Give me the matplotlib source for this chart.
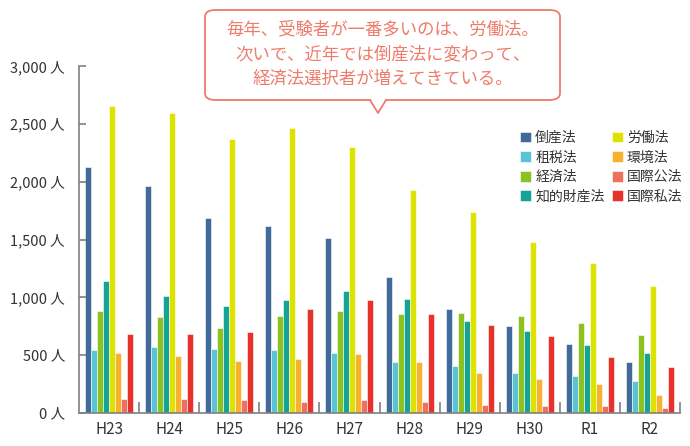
import numpy as np
import matplotlib.pyplot as plt
from matplotlib.patches import FancyBboxPatch, Polygon
from matplotlib.lines import Line2D

plt.rcParams['font.family'] = ['Noto Sans CJK JP', 'DejaVu Sans']

years = ['H23', 'H24', 'H25', 'H26', 'H27', 'H28', 'H29', 'H30', 'R1', 'R2']
subjects = ['倒産法', '租税法', '経済法', '知的財産法', '労働法', '環境法', '国際公法', '国際私法']
colors = ['#3f6a99', '#5bc3d6', '#8cc220', '#14a394', '#dce300', '#f8b12c', '#ee7060', '#e8312a']

tousan = [2130, 1960, 1690, 1620, 1510, 1180, 900, 750, 595, 440]
sozei = [545, 570, 552, 545, 520, 440, 405, 345, 320, 276]
keizai = [880, 830, 735, 840, 880, 855, 862, 840, 780, 672]
chiteki = [1140, 1010, 922, 975, 1052, 983, 795, 707, 590, 517]
roudou = [2655, 2595, 2365, 2460, 2302, 1925, 1735, 1480, 1295, 1095]
kankyou = [517, 492, 448, 465, 512, 440, 345, 295, 250, 155]
kokusai_kou = [121, 121, 112, 97, 112, 97, 70, 60, 60, 43]
kokusai_shi = [684, 684, 698, 896, 974, 853, 760, 665, 485, 397]

series = [tousan, sozei, keizai, chiteki, roudou, kankyou, kokusai_kou, kokusai_shi]

W, H = 690, 446
fig = plt.figure(figsize=(W / 100, H / 100), dpi=100)


def px(x, y):
    return (x / W, 1 - y / H)


ax = fig.add_axes([79 / W, 33 / H, 601 / W, 347 / H])

x = np.arange(len(years))
bw = 0.1
for i, (vals, c) in enumerate(zip(series, colors)):
    ax.bar(x - 0.35 + i * bw, vals, width=bw, color=c, edgecolor='white',
           linewidth=0.4, label=subjects[i])

ax.set_xlim(-0.5, len(years) - 0.5)
ax.set_ylim(0, 3000)

for s in ['top', 'right']:
    ax.spines[s].set_visible(False)
for s in ['left', 'bottom']:
    ax.spines[s].set_color('#808080')
    ax.spines[s].set_linewidth(1.2)

yt = np.arange(0, 3001, 500)
ax.set_yticks(yt)
ax.set_yticklabels([f'{v:,} 人' for v in yt], fontsize=10.5, color='#333333')
ax.tick_params(axis='y', direction='in', length=5, width=1.2, color='#808080', pad=10)

ax.set_xticks(x)
ax.set_xticklabels(years, fontsize=11, color='#333333')
ax.tick_params(axis='x', length=0, pad=6)
ax.set_xticks(np.arange(0.5, len(years)), minor=True)
ax.tick_params(axis='x', which='minor', direction='in', length=8, width=1.2, color='#808080')

leg = ax.legend(ncol=2, loc='upper left', bbox_to_anchor=px(513, 124),
                bbox_transform=fig.transFigure, frameon=False, fontsize=10,
                handlelength=0.8, handleheight=0.8, handletextpad=0.3,
                columnspacing=0.5, labelspacing=0.4, borderpad=0)
for t in leg.get_texts():
    t.set_color('#333333')

# callout box
coral = '#ee7b6b'
x0, y0 = px(205, 100)
x1, y1 = px(560, 10)
box = FancyBboxPatch((x0, y0), x1 - x0, y1 - y0, transform=fig.transFigure,
                     boxstyle='round,pad=0,rounding_size=0.015',
                     facecolor='white', edgecolor=coral, linewidth=1.3)
fig.patches.append(box)
tri = Polygon([px(370, 98), px(378, 113), px(386, 98)], closed=True,
              transform=fig.transFigure, facecolor='white', edgecolor='none')
fig.patches.append(tri)
fig.lines.append(Line2D([px(370, 100)[0], px(378, 113)[0], px(386, 100)[0]],
                        [px(370, 100)[1], px(378, 113)[1], px(386, 100)[1]],
                        transform=fig.transFigure, color=coral, linewidth=1.3))

lines = ['毎年、受験者が一番多いのは、労働法。',
         '次いで、近年では倒産法に変わって、',
         '経済法選択者が増えてきている。']
for k, s in enumerate(lines):
    fig.text(*px(383, 29 + k * 25), s, ha='center', va='center',
             fontsize=12.5, color=coral)

fig.savefig('out.png', dpi=100)
